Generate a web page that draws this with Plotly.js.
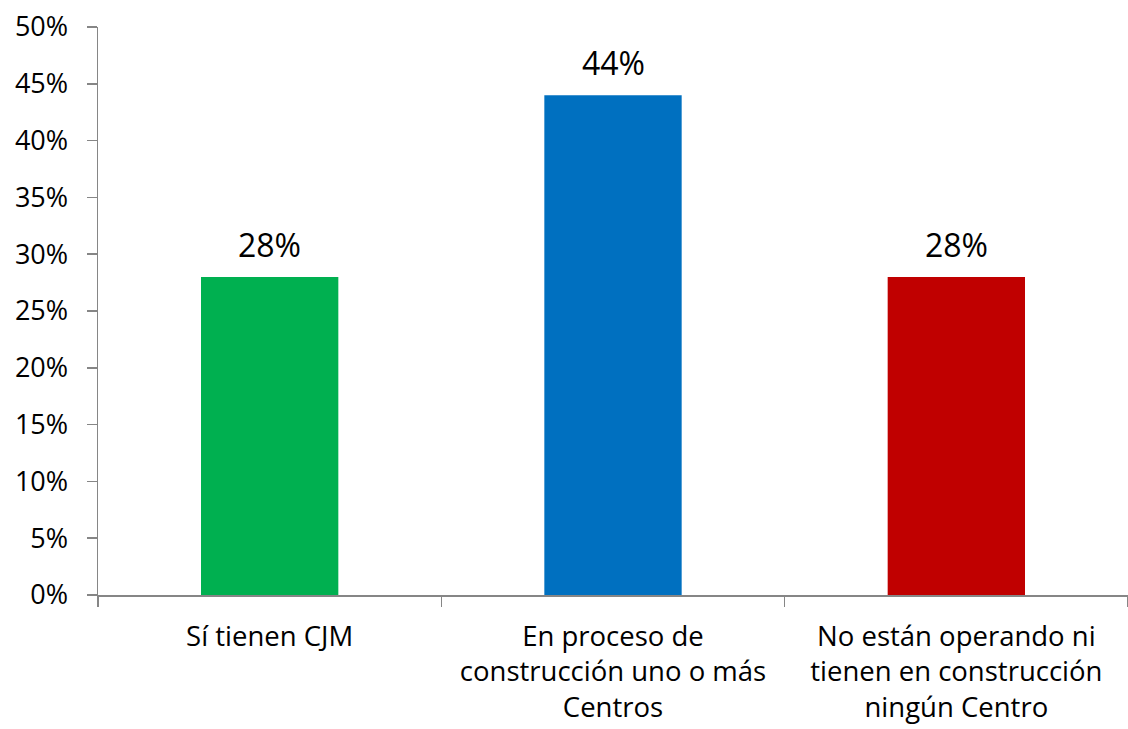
<!DOCTYPE html>
<html>
<head>
<meta charset="utf-8">
<script src="https://cdn.plot.ly/plotly-3.0.1.min.js"></script>
<style>html,body{margin:0;padding:0;background:#fff;}#chart{width:1128px;height:729px;}</style>
</head>
<body>
<div id="chart"></div>
<script>
const categories = ["Sí tienen CJM", "En proceso de<br>construcción uno o más<br>Centros", "No están operando ni<br>tienen en construcción<br>ningún Centro"];
const values = [0.28, 0.44, 0.28];
const barColors = ["#00B050", "#0070C0", "#C00000"];
const valueLabels = ["28%", "44%", "28%"];

const fontFamily = '"Open Sans", "Noto Sans", sans-serif';

const trace = {
  type: 'bar',
  x: categories,
  y: values,
  marker: {color: barColors},
  hoverinfo: 'none'
};

const annotations = categories.map((c, i) => ({
  x: c, y: values[i], xref: 'x', yref: 'y',
  text: valueLabels[i], showarrow: false,
  yanchor: 'bottom', yshift: 9,
  font: {family: fontFamily, size: 32, color: '#000'}
}));

const layout = {
  width: 1128, height: 729,
  margin: {l: 98, r: 0, t: 27, b: 134},
  paper_bgcolor: '#fff', plot_bgcolor: '#fff',
  bargap: 0.6,
  showlegend: false,
  font: {family: fontFamily, size: 27, color: '#000'},
  xaxis: {
    type: 'category',
    showline: true, linecolor: '#868686', linewidth: 1.5,
    ticks: 'outside', tickson: 'boundaries', ticklen: 10, tickcolor: '#868686', tickwidth: 1.5,
    showgrid: false, zeroline: false,
    tickfont: {family: fontFamily, size: 27.5, color: '#000'},
    ticklabelstandoff: 16
  },
  yaxis: {
    range: [0, 0.5], dtick: 0.05, tick0: 0, tickformat: '.0%',
    showline: true, linecolor: '#868686', linewidth: 1.5,
    ticks: 'outside', ticklen: 10, tickcolor: '#868686', tickwidth: 1.5,
    showgrid: false, zeroline: false,
    tickfont: {family: fontFamily, size: 27, color: '#000'},
    ticklabelstandoff: 13
  },
  annotations: annotations
};

Plotly.newPlot('chart', [trace], layout, {displayModeBar: false, staticPlot: true});
</script>
</body>
</html>
